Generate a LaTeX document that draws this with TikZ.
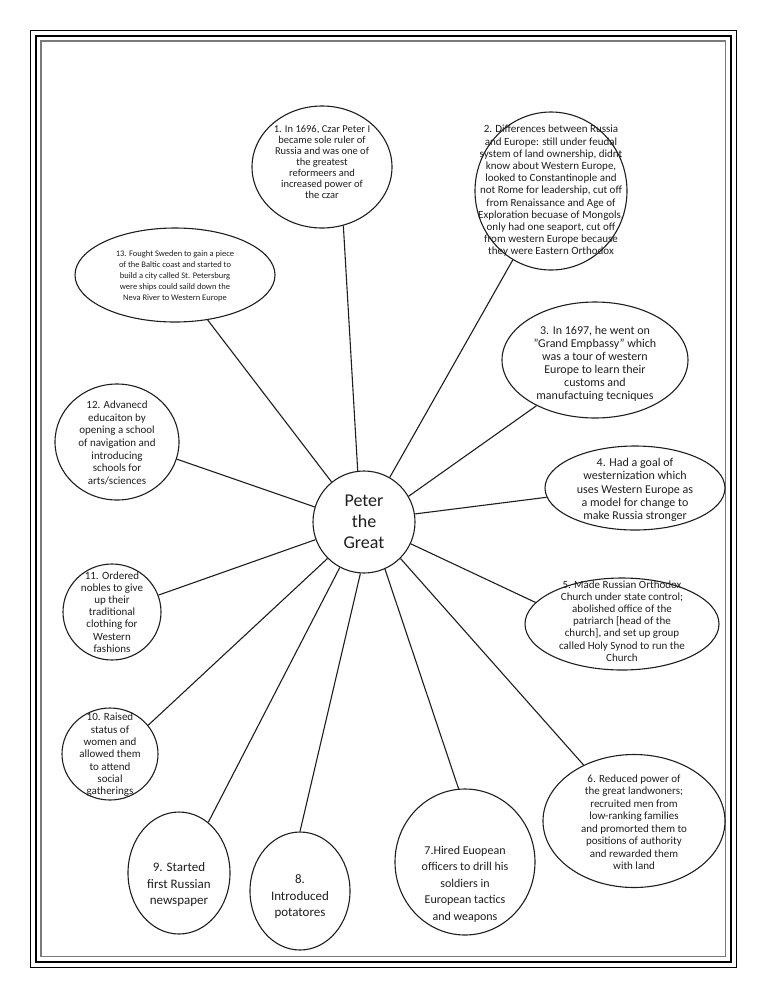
\documentclass[tikz,border=0pt]{standalone}
\usepackage{fontspec}
\setmainfont{Carlito}
\usetikzlibrary{shapes.geometric}
\definecolor{ink}{HTML}{1E1E1E}
\definecolor{frame}{HTML}{7A7A7A}
\begin{document}
\begin{tikzpicture}[x=1pt,y=-1pt,
  bubble/.style={draw=ink, line width=1.1pt, ellipse, inner sep=0pt},
  txt/.style={align=center, inner sep=0pt, text=ink},
  link/.style={draw=ink, line width=1.1pt}]
\useasboundingbox (0,0) rectangle (768,994);
% page border
\draw[black, line width=0.9pt] (30,30) rectangle (736,967);
\draw[black, line width=2pt] (35.5,35.5) rectangle (730.5,961.5);
\draw[frame, line width=1.8pt] (41,41) rectangle (725.5,956.5);

% centre
\node[draw=ink, line width=1.1pt, circle, minimum size=102pt, inner sep=0pt, align=center, text=ink,
      font=\fontsize{18}{21}\selectfont] (c) at (364,522) {Peter\\the\\Great};

% bubbles
\node[bubble, minimum width=140pt, minimum height=122pt] (n1) at (322,167) {};
\node[txt, font=\fontsize{10.5}{11}\selectfont] (t1) at (322,162) {1. In 1696, Czar Peter I\\became sole ruler of\\Russia and was one of\\the greatest\\reformeers and\\increased power of\\the czar};

\node[bubble, minimum width=152pt, minimum height=158pt] (n2) at (551,191) {};
\node[txt, font=\fontsize{11}{12.2}\selectfont] (t2) at (551,191) {2. Differences between Russia\\and Europe: still under feudal\\system of land ownership, didnt\\know about Western Europe,\\looked to Constantinople and\\not Rome for leadership, cut off\\from Renaissance and Age of\\Exploration becuase of Mongols,\\only had one seaport, cut off\\from western Europe because\\they were Eastern Orthodox};

\node[bubble, minimum width=186pt, minimum height=116pt] (n3) at (595,360) {};
\node[txt, font=\fontsize{12}{13}\selectfont] (t3) at (595,364) {3. In 1697, he went on\\"Grand Empbassy" which\\was a tour of western\\Europe to learn their\\customs and\\manufactuing tecniques};

\node[bubble, minimum width=180pt, minimum height=84pt] (n4) at (635,488) {};
\node[txt, font=\fontsize{12}{13.3}\selectfont] (t4) at (635,490) {4. Had a goal of\\westernization which\\uses Western Europe as\\a model for change to\\make Russia stronger};

\node[bubble, minimum width=194pt, minimum height=92pt] (n5) at (622,624) {};
\node[txt, font=\fontsize{11}{12.2}\selectfont] (t5) at (622,621) {5. Made Russian Orthodox\\Church under state control;\\abolished office of the\\patriarch [head of the\\church], and set up group\\called Holy Synod to run the\\Church};

\node[bubble, minimum width=182pt, minimum height=133pt] (n6) at (634,821) {};
\node[txt, font=\fontsize{11}{12.5}\selectfont] (t6) at (634,822) {6. Reduced power of\\the great landwoners;\\recruited men from\\low-ranking families\\and promorted them to\\positions of authority\\and rewarded them\\with land};

\node[bubble, minimum width=140pt, minimum height=146pt] (n7) at (465,862) {};
\node[txt, font=\fontsize{12}{16.5}\selectfont] (t7) at (465,884) {7.Hired Euopean\\officers to drill his\\soldiers in\\European tactics\\and weapons};

\node[bubble, minimum width=100pt, minimum height=118pt] (n8) at (300,891) {};
\node[txt, font=\fontsize{13}{16.5}\selectfont] (t8) at (300,897) {8.\\Introduced\\potatores};

\node[bubble, minimum width=102pt, minimum height=122pt] (n9) at (179,873) {};
\node[txt, font=\fontsize{13}{16.5}\selectfont] (t9) at (179,885) {9. Started\\first Russian\\newspaper};

\node[bubble, minimum width=96pt, minimum height=92pt] (n10) at (110,754) {};
\node[txt, font=\fontsize{11}{12.3}\selectfont] (t10) at (110,755) {10. Raised\\status of\\women and\\allowed them\\to attend\\social\\gatherings};

\node[bubble, minimum width=98pt, minimum height=96pt] (n11) at (112,612) {};
\node[txt, font=\fontsize{11}{12.2}\selectfont] (t11) at (112,612) {11. Ordered\\nobles to give\\up their\\traditional\\clothing for\\Western\\fashions};

\node[bubble, minimum width=124pt, minimum height=116pt] (n12) at (117,442) {};
\node[txt, font=\fontsize{11}{12.7}\selectfont] (t12) at (117,443) {12. Advanecd\\educaiton by\\opening a school\\of navigation and\\introducing\\schools for\\arts/sciences};

\node[bubble, minimum width=200pt, minimum height=94pt] (n13) at (175,275) {};
\node[txt, font=\fontsize{8.5}{11}\selectfont] (t13) at (175,276) {13. Fought Sweden to gain a piece\\of the Baltic coast and started to\\build a city called St. Petersburg\\were ships could saild down the\\Neva River to Western Europe};

% connectors
\draw[link] (c.97) -- (n1.-70);
\draw[link] (c.60) -- (n2.-119);
\draw[link] (c.30) -- (n3.-142);
\draw[link] (c.9) -- (n4.-174);
\draw[link] (c.-25) -- (n5.166);
\draw[link] (c.-45) -- (n6.132);
\draw[link] (c.-66) -- (n7.95);
\draw[link] (c.-94) -- (n8.90);
\draw[link] (c.-118) -- (n9.60);
\draw[link] (c.-135) -- (n10.37);
\draw[link] (c.-160) -- (n11.20);
\draw[link] (c.163) -- (n12.-16);
\draw[link] (c.129) -- (n13.-54);
\end{tikzpicture}
\end{document}
